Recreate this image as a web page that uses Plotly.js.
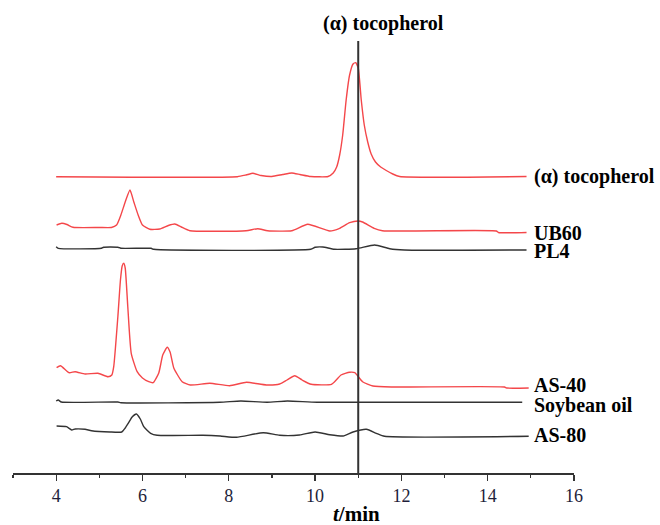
<!DOCTYPE html>
<html>
<head>
<meta charset="utf-8">
<script src="https://cdn.plot.ly/plotly-3.0.1.min.js"></script>
<style>html,body{margin:0;padding:0;background:#fff;}#chart{width:660px;height:525px;}</style>
</head>
<body>
<div id="chart"></div>
<script>
// Retention time (min) and detector signal (arbitrary units, offset stacked)
const tocoT = [4.0, 8.2, 8.4, 8.56, 8.75, 9.0, 9.25, 9.46, 9.65, 9.9, 10.3, 10.42, 10.5, 10.57, 10.64, 10.72, 10.8, 10.88, 10.94, 11.0, 11.07, 11.14, 11.22, 11.3, 11.4, 11.52, 11.65, 11.8, 11.96, 14.9];
const tocoS = [296.3, 296.3, 298, 299.7, 297.5, 296.5, 298.5, 300, 298.5, 296.5, 296.5, 300, 306, 318, 338, 373, 398, 409, 410.3, 405, 373, 348, 331, 319, 311, 306, 302.5, 299, 296.5, 296.5];

const ub60T = [4.01, 4.13, 4.25, 4.39, 5.0, 5.28, 5.4, 5.5, 5.6, 5.71, 5.8, 5.9, 6.0, 6.17, 6.4, 6.6, 6.75, 6.9, 7.1, 8.4, 8.67, 8.9, 9.46, 9.83, 10.34, 10.57, 10.8, 11.0, 11.1, 11.37, 11.56, 14.2, 14.25, 14.9];
const ub60S = [248, 249.7, 248.5, 245.7, 245.5, 245.5, 248, 258, 271, 283, 271, 258, 248, 243.7, 244, 247.5, 249, 246, 242.3, 242.3, 244.3, 242.3, 242.3, 248.7, 242, 244.7, 250.3, 252, 251, 244.7, 242.3, 242, 240.5, 240.5];

const pl4T = [4.0, 4.05, 5.05, 5.1, 5.43, 5.5, 6.2, 6.26, 9.9, 10.0, 10.18, 10.45, 10.95, 11.38, 11.73, 12.07, 14.9];
const pl4S = [226.3, 224.7, 224.7, 225.8, 225.8, 224.7, 224.7, 223.7, 223.7, 225.7, 226, 223.7, 224.3, 228, 224.3, 223, 223];

const as40T = [4.01, 4.1, 4.3, 4.44, 4.67, 4.97, 5.2, 5.29, 5.334, 5.43, 5.49, 5.53, 5.566, 5.6, 5.66, 5.74, 5.877, 6.0, 6.146, 6.248, 6.378, 6.47, 6.573, 6.64, 6.726, 6.92, 7.11, 7.56, 8.02, 8.41, 8.87, 9.18, 9.35, 9.53, 9.7, 9.91, 10.38, 10.49, 10.6, 10.8, 10.92, 11.1, 11.34, 11.8, 14.39, 14.44, 14.95];
const as40S = [105.3, 107.3, 100.3, 101.3, 99, 99.7, 96.3, 98, 106.3, 156.3, 193, 207, 209.7, 205, 166.3, 119.7, 101.3, 95, 91.3, 90.3, 100, 118, 125.7, 121, 105, 91.3, 88, 89.7, 87.3, 90.7, 88, 89, 93, 97.3, 93, 88.7, 88.7, 93, 98, 100.7, 100.3, 91.3, 87, 86, 86, 85, 85];

const soyT = [4.0, 4.05, 4.12, 5.43, 5.5, 7.79, 8.28, 8.89, 9.36, 10.05, 14.8];
const soyS = [72, 73, 71, 71, 70.3, 70.7, 72, 70.7, 72, 70.7, 70.7];

const as80T = [4.01, 4.24, 4.36, 4.44, 4.67, 4.82, 5.25, 5.52, 5.6, 5.68, 5.76, 5.86, 5.95, 6.03, 6.19, 6.34, 7.4, 7.8, 8.18, 8.8, 9.18, 9.64, 10.0, 10.34, 10.65, 10.88, 11.19, 11.42, 11.61, 14.95];
const as80S = [47, 46.3, 43, 44, 43.7, 42.3, 41, 41, 45, 50.3, 56, 59, 54, 46.3, 39.7, 37.7, 37.7, 37, 35.7, 40.3, 37.7, 38, 41, 38.3, 37, 41, 43.7, 39.7, 36.7, 36.7];

const seriesNames = ['(α) tocopherol', 'UB60', 'PL4', 'AS-40', 'Soybean oil', 'AS-80'];
const labelY = [297, 240, 222, 88, 68, 38];
const tickVals = [4, 6, 8, 10, 12, 14, 16];
const markerTime = 11;

const RED = '#f4474a', BLK = '#333333';
const FONT = 'Liberation Serif, Times New Roman, serif';

function tr(x, y, c, n) {
  return {x: x, y: y, type: 'scatter', mode: 'lines', name: n,
    line: {color: c, width: 1.4, shape: 'spline', smoothing: 0.5}, hoverinfo: 'skip'};
}
const data = [
  tr(tocoT, tocoS, RED, seriesNames[0]),
  tr(ub60T, ub60S, RED, seriesNames[1]),
  tr(pl4T, pl4S, BLK, seriesNames[2]),
  tr(as40T, as40S, RED, seriesNames[3]),
  tr(soyT, soyS, BLK, seriesNames[4]),
  tr(as80T, as80S, BLK, seriesNames[5])
];

const annotations = seriesNames.map((n, i) => ({
  x: 15.02, y: labelY[i], xref: 'x', yref: 'y', xanchor: 'left', yanchor: 'middle',
  text: '<b>' + n + '</b>', showarrow: false, font: {family: FONT, size: 20, color: '#000'}
}));
annotations.push({x: 11.59, y: 1, xref: 'x', yref: 'paper', xanchor: 'center', yanchor: 'middle', yshift: 18,
  text: '<b>(α) tocopherol</b>', showarrow: false, font: {family: FONT, size: 20, color: '#000'}});
annotations.push({x: 10.97, y: 0, xref: 'x', yref: 'paper', xanchor: 'center', yanchor: 'middle', yshift: -41,
  text: '<b><i>t</i>/min</b>', showarrow: false, font: {family: FONT, size: 21, color: '#000'}});

const layout = {
  width: 660, height: 525,
  margin: {l: 13, r: 86, t: 41, b: 52},
  paper_bgcolor: '#fff', plot_bgcolor: '#fff',
  showlegend: false,
  xaxis: {range: [3, 16], tickvals: tickVals, ticks: 'outside', ticklen: 6, tickwidth: 1.2, tickcolor: BLK,
    showline: true, linecolor: BLK, linewidth: 1.5, showgrid: false, zeroline: false,
    tickfont: {family: FONT, size: 18, color: '#1e1e3a'},
    minor: {dtick: 1, tick0: 3, ticks: 'outside', ticklen: 3, tickcolor: BLK, showgrid: false}},
  yaxis: {range: [0, 432], visible: false, showgrid: false, zeroline: false},
  shapes: [{type: 'line', xref: 'x', yref: 'paper', x0: markerTime, x1: markerTime, y0: 0, y1: 1,
    line: {color: BLK, width: 2}}],
  annotations: annotations
};
Plotly.newPlot('chart', data, layout, {staticPlot: true, displayModeBar: false});
</script>
</body>
</html>
